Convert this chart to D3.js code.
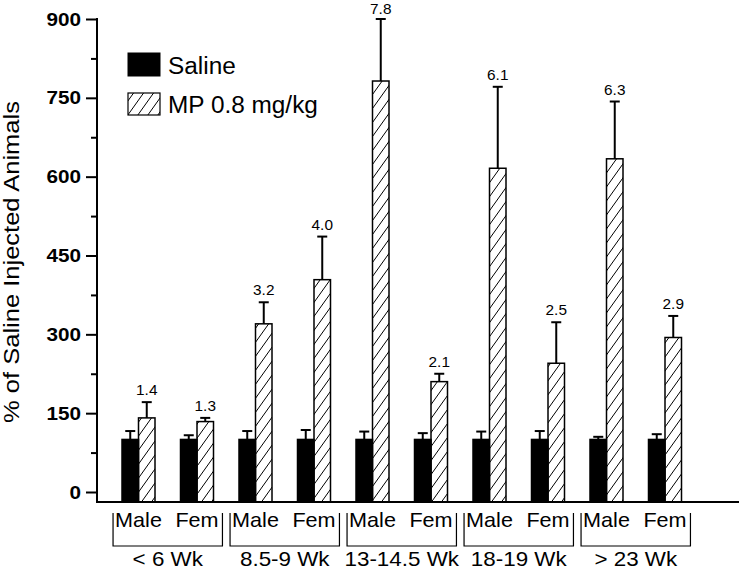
<!DOCTYPE html>
<html>
<head>
<meta charset="utf-8">
<script src="https://cdn.jsdelivr.net/npm/d3@7"></script>
<style>
  body { margin: 0; background: #fff; }
  svg { display: block; font-family: "Liberation Sans", Arial, sans-serif; }
</style>
</head>
<body>
<div id="chart"></div>
<script>
// Values (% of saline injected animals)
const groups = ['< 6 Wk', '8.5-9 Wk', '13-14.5 Wk', '18-19 Wk', '> 23 Wk'];
const sexes = ['Male', 'Fem'];
const treatments = ['Saline', 'MP 0.8 mg/kg'];

// one entry per group x sex, in order
const salineMean = [100, 100, 100, 100, 100, 100, 100, 100, 100, 100];
const salineErrTop = [116, 108, 116, 118, 115, 112, 115, 116, 105, 110];
const mpMean = [141, 134, 320, 404, 782, 210, 616, 245, 634, 294];
const mpErrTop = [171, 141, 361, 486, 900, 225, 771, 323, 743, 335];
const foldLabels = ['1.4', '1.3', '3.2', '4.0', '7.8', '2.1', '6.1', '2.5', '6.3', '2.9'];

const yTicks = [0, 150, 300, 450, 600, 750, 900];
const yMinorTicks = [75, 225, 375, 525, 675, 825];

const width = 739, height = 570;
const baseY = 502; // x axis line sits below the zero tick

const svg = d3.select('#chart').append('svg')
    .attr('width', width)
    .attr('height', height);

svg.append('rect').attr('width', width).attr('height', height).attr('fill', '#fff');

// hatch pattern for MP bars (steep "/" lines)
const defs = svg.append('defs');
defs.append('pattern')
    .attr('id', 'hatch')
    .attr('patternUnits', 'userSpaceOnUse')
    .attr('width', 10)
    .attr('height', 14)
  .append('path')
    .attr('d', 'M0,14 L10,0 M-1,1.4 L1,-1.4 M9,15.4 L11,12.6')
    .attr('stroke', '#000')
    .attr('stroke-width', 1);

const y = d3.scaleLinear().domain([0, 900]).range([492, 19]);
const x0 = d3.scaleBand().domain(groups).range([109.25, 694.25]);
const x1 = d3.scaleBand().domain(sexes).range([0, x0.bandwidth()]);
const x2 = d3.scaleBand().domain(treatments).range([-16.5, 16.5]);

// text that is a bit wider than Arial, like the original typeface
function wideText(parent, tx, ty, str, o) {
    const g = parent.append('g')
        .attr('transform', `translate(${tx},${ty}) rotate(${o.rotate || 0}) scale(${o.sx || 1},1)`);
    g.append('text')
        .attr('text-anchor', o.anchor || 'middle')
        .attr('font-size', o.size)
        .attr('font-weight', o.weight || 'normal')
        .attr('fill', '#000')
        .text(str);
}

// y axis
const yAxis = svg.append('g').attr('transform', 'translate(97,0)');
yAxis.call(d3.axisLeft(y).tickValues(yTicks).tickSize(11).tickFormat(''))
    .call(g => g.select('.domain').remove())
    .call(g => g.selectAll('line').attr('stroke-width', 2));
yAxis.append('g').call(d3.axisLeft(y).tickValues(yMinorTicks).tickSize(6).tickFormat(''))
    .call(g => g.select('.domain').remove())
    .call(g => g.selectAll('line').attr('stroke-width', 2));
yAxis.append('line')
    .attr('x1', 0).attr('x2', 0)
    .attr('y1', y(900) - 1).attr('y2', baseY)
    .attr('stroke', '#000').attr('stroke-width', 2);
yTicks.forEach(t => {
    wideText(svg, 81, y(t) + 6.5, t, { size: 18, weight: 'bold', anchor: 'end', sx: 1.15 });
});

// x axis line
svg.append('line')
    .attr('x1', 96).attr('x2', width)
    .attr('y1', baseY).attr('y2', baseY)
    .attr('stroke', '#000').attr('stroke-width', 2);

// y label
wideText(svg, 19, 262, '% of Saline Injected Animals', { size: 22, rotate: -90, sx: 1.16 });

// bars
const rows = [];
groups.forEach((grp, gi) => {
    sexes.forEach((sex, si) => {
        const i = gi * 2 + si;
        const cx = x0(grp) + x1(sex) + x1.bandwidth() / 2;
        rows.push({ grp, sex, cx, t: treatments[0], mean: salineMean[i], top: salineErrTop[i], label: null });
        rows.push({ grp, sex, cx, t: treatments[1], mean: mpMean[i], top: mpErrTop[i], label: foldLabels[i] });
    });
});

const bars = svg.append('g');
bars.selectAll('rect')
    .data(rows)
    .join('rect')
    .attr('x', d => d.cx + x2(d.t))
    .attr('y', d => y(d.mean))
    .attr('width', x2.bandwidth())
    .attr('height', d => baseY - y(d.mean))
    .attr('fill', d => d.t === treatments[0] ? '#000' : 'url(#hatch)')
    .attr('stroke', '#000')
    .attr('stroke-width', 1.5);

// error bars
const err = svg.append('g').attr('stroke', '#000').attr('stroke-width', 2);
rows.forEach(d => {
    const bx = d.cx + x2(d.t) + x2.bandwidth() / 2;
    err.append('line').attr('x1', bx).attr('x2', bx).attr('y1', y(d.mean)).attr('y2', y(d.top));
    err.append('line').attr('x1', bx - 5).attr('x2', bx + 5).attr('y1', y(d.top)).attr('y2', y(d.top));
    if (d.label) {
        // keep the tallest label inside the top edge
        wideText(svg, bx, Math.max(y(d.top) - 7, 13.5), d.label, { size: 14.5, sx: 1.06 });
    }
});

// sex labels, brackets and group labels
groups.forEach(grp => {
    const gx = x0(grp) + x0.bandwidth() / 2;
    sexes.forEach(sex => {
        wideText(svg, x0(grp) + x1(sex) + x1.bandwidth() / 2, 527, sex, { size: 20, sx: 1.08 });
    });
    svg.append('path')
        .attr('d', `M${gx - 54.7},513 V546 H${gx + 54.7} V513`)
        .attr('fill', 'none')
        .attr('stroke', '#000')
        .attr('stroke-width', 1.2);
    wideText(svg, gx, 566, grp, { size: 20, sx: 1.12 });
});

// legend
const legend = svg.append('g');
legend.append('rect').attr('x', 128).attr('y', 53).attr('width', 32).attr('height', 23)
    .attr('fill', '#000').attr('stroke', '#000');
legend.append('rect').attr('x', 128).attr('y', 93).attr('width', 32).attr('height', 22)
    .attr('fill', 'url(#hatch)').attr('stroke', '#000').attr('stroke-width', 1.2);
wideText(legend, 168, 74, treatments[0], { size: 23, anchor: 'start', sx: 1.06 });
wideText(legend, 168, 113, treatments[1], { size: 23, anchor: 'start', sx: 1.06 });
</script>
</body>
</html>
